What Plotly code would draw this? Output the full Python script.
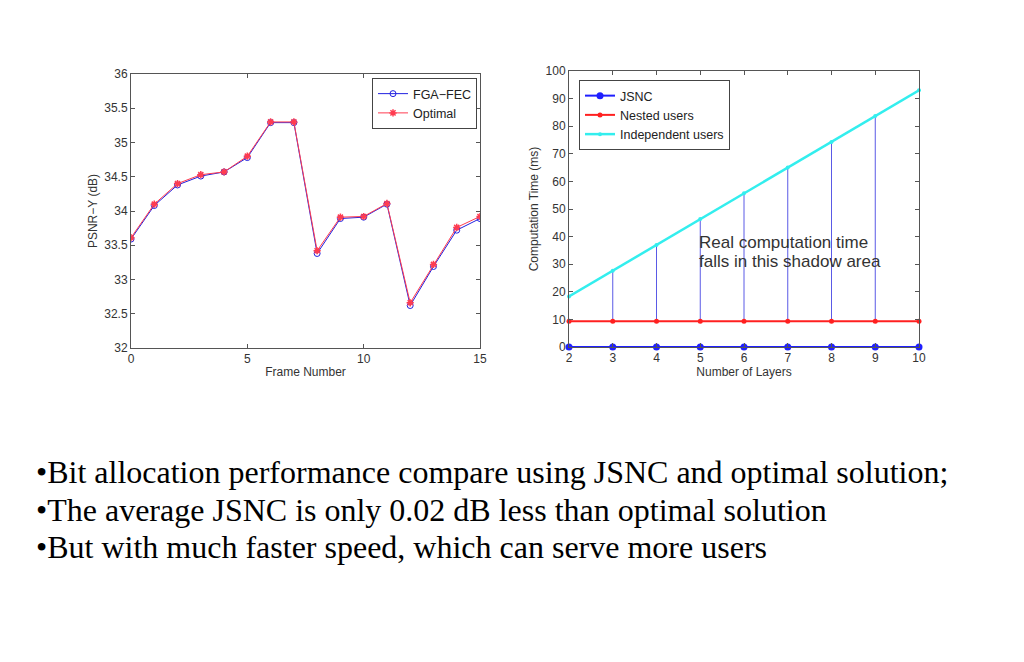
import plotly.graph_objects as go

# left chart: PSNR per frame
frames = list(range(16))
fga_fec = [33.59, 34.08, 34.38, 34.51, 34.57, 34.78, 35.29, 35.29,
           33.38, 33.89, 33.91, 34.10, 32.62, 33.19, 33.72, 33.89]
optimal = [33.61, 34.10, 34.40, 34.53, 34.57, 34.80, 35.30, 35.30,
           33.42, 33.91, 33.92, 34.11, 32.66, 33.22, 33.76, 33.92]

# right chart: computation time per number of layers
layers = [2, 3, 4, 5, 6, 7, 8, 9, 10]
jsnc = [0, 0, 0, 0, 0, 0, 0, 0, 0]
nested = [9.3, 9.3, 9.3, 9.3, 9.3, 9.3, 9.3, 9.3, 9.3]
independent = [18.3, 27.6, 37.0, 46.4, 55.7, 65.0, 74.3, 83.7, 93.0]

note_lines = ["Real computation time", "falls in this shadow area"]
bullets = [
    "•Bit allocation performance compare using JSNC and optimal solution;",
    "•The average JSNC is only 0.02 dB less than optimal solution",
    "•But with much faster speed, which can serve more users",
]

# page has an 8px body margin, so the figure is a bit smaller than the window
W, H, PAD = 1008, 646, 8


def fx(px):
    return (px - PAD) / W


def fy(py):
    return 1 - (py - PAD) / H


fig = go.Figure()

fig.add_trace(go.Scatter(
    x=frames, y=fga_fec, name="FGA\u2212FEC", mode="lines+markers",
    line=dict(color="#2020e0", width=1),
    marker=dict(symbol="circle-open", size=6, color="#2020e0", line=dict(width=1)),
    xaxis="x", yaxis="y", legend="legend"))
fig.add_trace(go.Scatter(
    x=frames, y=optimal, name="Optimal", mode="lines+markers",
    line=dict(color="#ff3c50", width=1),
    marker=dict(symbol="asterisk-open", size=6, color="#ff3c50", line=dict(width=1.5, color="#ff3c50")),
    xaxis="x", yaxis="y", legend="legend"))

# vertical "shadow" lines between nested and independent
vx, vy = [], []
for i in range(1, len(layers) - 1):
    vx += [layers[i], layers[i], None]
    vy += [nested[i], independent[i], None]
fig.add_trace(go.Scatter(
    x=vx, y=vy, mode="lines", line=dict(color="#3030e0", width=0.8),
    showlegend=False, hoverinfo="skip", xaxis="x2", yaxis="y2"))

fig.add_trace(go.Scatter(
    x=layers, y=jsnc, name="JSNC", mode="lines+markers",
    line=dict(color="#1f1fff", width=2),
    marker=dict(symbol="circle", size=7, color="#1f1fff"),
    xaxis="x2", yaxis="y2", legend="legend2", cliponaxis=False))
fig.add_trace(go.Scatter(
    x=layers, y=nested, name="Nested users", mode="lines+markers",
    line=dict(color="#ff2020", width=2),
    marker=dict(symbol="circle", size=5, color="#ff2020"),
    xaxis="x2", yaxis="y2", legend="legend2", cliponaxis=False))
fig.add_trace(go.Scatter(
    x=layers, y=independent, name="Independent users", mode="lines+markers",
    line=dict(color="#33eeee", width=2.5),
    marker=dict(symbol="circle", size=4, color="#33eeee"),
    xaxis="x2", yaxis="y2", legend="legend2", cliponaxis=False))

axis_style = dict(showgrid=False, zeroline=False, showline=True, mirror="ticks",
                  linecolor="#555555", linewidth=1, ticks="inside", ticklen=4,
                  tickcolor="#555555", automargin=False,
                  tickfont=dict(size=12, color="#333333", family="Liberation Sans"))
title_font = dict(size=12, color="#333333", family="Liberation Sans")
legend_style = dict(bgcolor="white", bordercolor="#444444", borderwidth=1,
                    font=dict(size=12.5, color="#222222", family="Liberation Sans"),
                    tracegroupgap=0, itemwidth=30)

ann = []
for i, line in enumerate(note_lines):
    ann.append(dict(text=line, x=4.93, y=37.7 - 6.9 * i, xref="x2", yref="y2",
                    xanchor="left", yanchor="middle", showarrow=False,
                    font=dict(size=17, color="#333333", family="Liberation Sans")))
for i, line in enumerate(bullets):
    ann.append(dict(text=line, x=fx(34), y=fy(472 + 37.5 * i),
                    xref="paper", yref="paper", xanchor="left", yanchor="middle",
                    showarrow=False, font=dict(size=32, color="black",
                                               family="Liberation Serif")))

fig.update_layout(
    width=W, height=H,
    margin=dict(l=0, r=0, t=0, b=0, autoexpand=False),
    paper_bgcolor="white", plot_bgcolor="white",
    xaxis=dict(domain=[fx(131), fx(480)], range=[0, 15], tickvals=[0, 5, 10, 15],
               title=dict(text="Frame Number", font=title_font, standoff=2),
               anchor="y", **axis_style),
    yaxis=dict(domain=[fy(348), fy(74)], range=[32, 36], dtick=0.5,
               title=dict(text="PSNR\u2212Y (dB)", font=title_font, standoff=4),
               anchor="x", **axis_style),
    xaxis2=dict(domain=[fx(569), fx(919)], range=[2, 10], dtick=1,
                title=dict(text="Number of Layers", font=title_font, standoff=0),
                anchor="y2", **axis_style),
    yaxis2=dict(domain=[fy(347), fy(71)], range=[0, 100], dtick=10,
                title=dict(text="Computation Time (ms)", font=title_font, standoff=4),
                anchor="x2", **axis_style),
    legend=dict(x=fx(477), y=fy(78), xanchor="right", yanchor="top", **legend_style),
    legend2=dict(x=fx(579), y=fy(80), xanchor="left", yanchor="top", **legend_style),
    annotations=ann,
)

fig.write_html("out.html")
